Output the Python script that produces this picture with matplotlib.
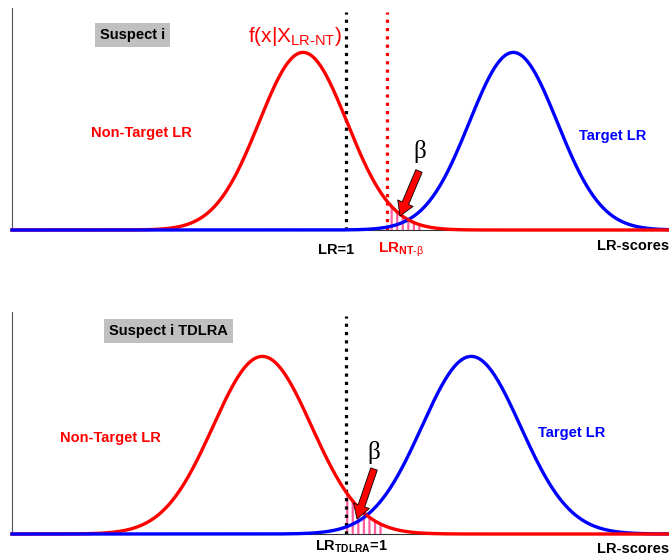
import matplotlib
matplotlib.use("Agg")
import matplotlib.pyplot as plt
import numpy as np

plt.rcParams['font.family'] = ['Liberation Sans', 'DejaVu Sans']
plt.rcParams['mathtext.fontset'] = 'custom'
plt.rcParams['mathtext.rm'] = 'Liberation Sans'
plt.rcParams['mathtext.bf'] = 'Liberation Sans:bold'
plt.rcParams['mathtext.it'] = 'Liberation Sans:italic'
plt.rcParams['hatch.linewidth'] = 1.6

# panel parameters (LR-score units, axis runs 0..10)
titles = ["Suspect i", "Suspect i TDLRA"]
nontarget_mean = [4.43, 3.81]
target_mean = [7.63, 6.99]
score_sd = [0.67, 0.75]
lr_one = [5.08, 5.08]
beta_start = [5.71, 5.08]
beta_width = [0.55, 0.6]
peak = 0.80

RED = '#ff0000'
BLUE = '#0000ff'
PINK = '#ff5fa0'

W, H = 669, 560


def fp(x, y):
    # pixel position of the original picture -> figure fraction
    return (x / W, 1 - y / H)


def density(x, mu, sd):
    return peak * np.exp(-0.5 * ((x - mu) / sd) ** 2)


fig = plt.figure(figsize=(6.69, 5.6), dpi=100)
ax_top = fig.add_axes([12 / W, 1 - 230 / H, 657 / W, 222 / H])
ax_bot = fig.add_axes([12 / W, 1 - 534 / H, 657 / W, 222 / H])

x = np.linspace(0, 10, 800)

for i, ax in enumerate([ax_top, ax_bot]):
    nt = density(x, nontarget_mean[i], score_sd[i])
    tg = density(x, target_mean[i], score_sd[i])
    mid = 0.5 * (nontarget_mean[i] + target_mean[i])
    left = x <= mid
    right = x >= mid

    # beta area under the non-target curve
    sel = (x >= beta_start[i]) & (x <= beta_start[i] + beta_width[i])
    ax.fill_between(x, 0, nt, where=sel, facecolor='none', edgecolor=PINK,
                    hatch='|||', linewidth=0, zorder=1)

    # blue lies on top left of the crossing, red on top right of it
    ax.plot(x[left], nt[left], color=RED, lw=2.4, clip_on=False, zorder=3)
    ax.plot(x[left], tg[left], color=BLUE, lw=2.4, clip_on=False, zorder=4)
    ax.plot(x[right], tg[right], color=BLUE, lw=2.4, clip_on=False, zorder=3)
    ax.plot(x[right], nt[right], color=RED, lw=2.4, clip_on=False, zorder=4)

    ax.axvline(lr_one[i], ymax=0.98, color='black', lw=2.3,
               linestyle=(0, (1, 1.6)), zorder=2)
    if i == 0:
        ax.axvline(beta_start[i], ymax=0.98, color=RED, lw=2.3,
                   linestyle=(0, (1, 1.6)), zorder=2)

    ax.set_xlim(0, 10)
    ax.set_ylim(0, 1)
    ax.set_xticks([])
    ax.set_yticks([])
    ax.spines['top'].set_visible(False)
    ax.spines['right'].set_visible(False)
    ax.spines['left'].set_color('#555555')
    ax.spines['left'].set_linewidth(0.8)
    ax.spines['bottom'].set_color('#333333')
    ax.spines['bottom'].set_linewidth(0.8)
    ax.patch.set_alpha(0)

box = dict(boxstyle='square,pad=0.35', facecolor='#c0c0c0', edgecolor='none')
serif = ['Liberation Serif', 'DejaVu Serif']

# top panel texts
fig.text(*fp(100, 35), titles[0], fontsize=10.5, fontweight='bold',
         va='center', ha='left', bbox=box)
fig.text(*fp(248, 37), r'f(x|X$_{\mathrm{LR{\text{-}}NT}}$)', color=RED,
         fontsize=15, va='center', ha='left')
fig.text(*fp(141, 133), 'Non-Target LR', color=RED, fontsize=10.5,
         fontweight='bold', ha='center', va='center')
fig.text(*fp(613, 136), 'Target LR', color=BLUE, fontsize=10.5,
         fontweight='bold', ha='center', va='center')
fig.text(*fp(420, 152), 'β', fontsize=18, ha='center', va='center',
         family=serif)
fig.text(*fp(336, 250), 'LR=1', fontsize=10.5, fontweight='bold',
         ha='center', va='center')
fig.text(*fp(378, 250), r'LR$_{\mathbf{NT{\text{-}}}\mathrm{\beta}}$',
         color=RED, fontsize=11, fontweight='bold', ha='left', va='center')
fig.text(*fp(669, 246), 'LR-scores', fontsize=10.5, fontweight='bold',
         ha='right', va='center')

# bottom panel texts
fig.text(*fp(109, 331), titles[1], fontsize=10.5, fontweight='bold',
         va='center', ha='left', bbox=box)
fig.text(*fp(110, 438), 'Non-Target LR', color=RED, fontsize=10.5,
         fontweight='bold', ha='center', va='center')
fig.text(*fp(572, 433), 'Target LR', color=BLUE, fontsize=10.5,
         fontweight='bold', ha='center', va='center')
fig.text(*fp(374, 452), 'β', fontsize=18, ha='center', va='center',
         family=serif)
fig.text(*fp(315, 547), r'LR$_{\mathbf{TDLRA}}$=1', fontsize=10.5,
         fontweight='bold', ha='left', va='center')
fig.text(*fp(669, 549), 'LR-scores', fontsize=10.5, fontweight='bold',
         ha='right', va='center')

# red arrows pointing at beta
arrow = dict(facecolor=RED, edgecolor='black', linewidth=0.6,
             width=5, headwidth=12, headlength=10, shrink=0)
ax_top.annotate('', xy=fp(400, 216), xytext=fp(419, 171),
                xycoords='figure fraction', textcoords='figure fraction',
                arrowprops=arrow, annotation_clip=False)
ax_bot.annotate('', xy=fp(357, 519), xytext=fp(374, 469),
                xycoords='figure fraction', textcoords='figure fraction',
                arrowprops=arrow, annotation_clip=False)

fig.savefig('out.png', dpi=100)
